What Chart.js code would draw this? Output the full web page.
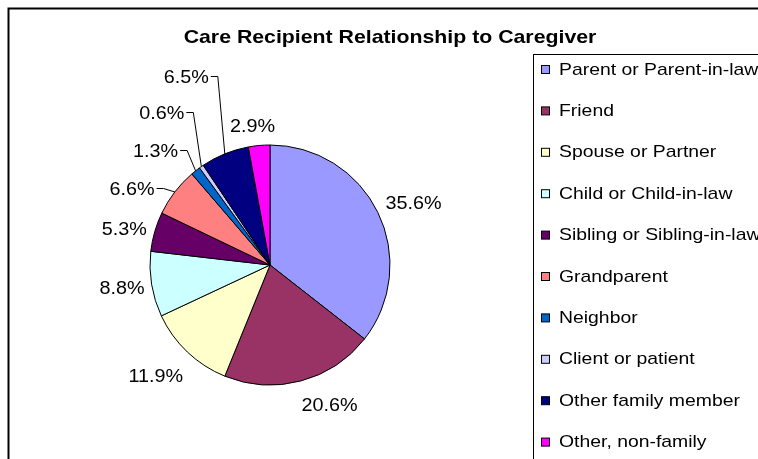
<!DOCTYPE html>
<html>
<head>
<meta charset="utf-8">
<script src="https://cdn.jsdelivr.net/npm/chart.js@4.4.1/dist/chart.umd.min.js"></script>
<style>
  html, body { margin: 0; padding: 0; background: #fff; overflow: hidden; }
  #wrap { position: relative; width: 758px; height: 459px; }
</style>
</head>
<body>
<div id="wrap"><canvas id="pie" width="758" height="459"></canvas></div>
<script>
// data
const categories = [
  'Parent or Parent-in-law', 'Friend', 'Spouse or Partner', 'Child or Child-in-law',
  'Sibling or Sibling-in-law', 'Grandparent', 'Neighbor', 'Client or patient',
  'Other family member', 'Other, non-family'
];
const shares = [35.6, 20.6, 11.9, 8.8, 5.3, 6.6, 1.3, 0.6, 6.5, 2.9];
const sliceColors = [
  '#9999FF', '#993366', '#FFFFCC', '#CCFFFF', '#660066',
  '#FF8080', '#0066CC', '#CCCCFF', '#000080', '#FF00FF'
];
const chartTitle = 'Care Recipient Relationship to Caregiver';

// label placement: [angle nudge (deg) from slice middle, distance from centre, leader line]
const labelPlacement = [
  [3, 156, false], [-8, 153, false], [2, 160, false], [0, 150, false], [-2.5, 150, false],
  [-9, 157, true], [-7, 161, true], [-0.7, 186, true], [-2, 205, true], [-2, 139, false]
];

const FONT = '"Liberation Sans", Arial, sans-serif';

function stretchedText(ctx, text, x, y, align, scaleX) {
  ctx.save();
  ctx.translate(x, y);
  ctx.scale(scaleX, 1);
  ctx.textAlign = align;
  ctx.textBaseline = 'middle';
  ctx.fillText(text, 0, 0);
  ctx.restore();
}

// frame, title and legend drawn behind/around the pie
const decor = {
  id: 'decor',
  beforeDraw(chart) {
    const ctx = chart.ctx;
    ctx.save();
    ctx.fillStyle = '#fff';
    ctx.fillRect(0, 0, chart.width, chart.height);
    ctx.strokeStyle = '#000';
    ctx.lineWidth = 2;
    ctx.strokeRect(8.5, 8.5, 900, 600);

    ctx.fillStyle = '#000';
    ctx.font = 'bold 19px ' + FONT;
    stretchedText(ctx, chartTitle, 390, 38, 'center', 1.12);

    // legend box
    ctx.lineWidth = 1;
    ctx.strokeStyle = '#000';
    ctx.strokeRect(533.5, 54.5, 400, 500);
    ctx.font = '17px ' + FONT;
    categories.forEach((name, i) => {
      const y = 70 + i * 41.4;
      ctx.fillStyle = sliceColors[i];
      ctx.fillRect(541.5, y - 4.5, 8, 8);
      ctx.strokeStyle = '#000';
      ctx.strokeRect(541.5, y - 4.5, 8, 8);
      ctx.fillStyle = '#000';
      stretchedText(ctx, name, 559, y, 'left', 1.14);
    });
    ctx.restore();
  }
};

// percentage labels with leader lines for the crowded slices
const pctLabels = {
  id: 'pctLabels',
  afterDatasetsDraw(chart) {
    const ctx = chart.ctx;
    const meta = chart.getDatasetMeta(0);
    ctx.save();
    ctx.font = '18px ' + FONT;
    ctx.fillStyle = '#000';
    ctx.strokeStyle = '#000';
    ctx.lineWidth = 1;
    meta.data.forEach((arc, i) => {
      const { x, y, startAngle, endAngle, outerRadius } = arc.getProps(['x', 'y', 'startAngle', 'endAngle', 'outerRadius'], true);
      const mid = (startAngle + endAngle) / 2;
      const [nudge, dist, leader] = labelPlacement[i];
      const a = mid + nudge * Math.PI / 180;
      const lx = x + Math.cos(a) * dist;
      const ly = y + Math.sin(a) * dist;
      const text = shares[i].toFixed(1) + '%';
      stretchedText(ctx, text, lx, ly, 'center', 1.1);
      if (leader) {
        const w = ctx.measureText(text).width * 1.1;
        const sx = lx + w / 2 + 2;
        const sy = Math.round(ly) - 1.5;
        const ex = x + Math.cos(mid) * outerRadius;
        const ey = y + Math.sin(mid) * outerRadius;
        ctx.beginPath();
        ctx.moveTo(sx, sy);
        ctx.lineTo(sx + 7, sy);
        ctx.lineTo(ex, ey);
        ctx.stroke();
      }
    });
    ctx.restore();
  }
};

new Chart(document.getElementById('pie'), {
  type: 'pie',
  data: {
    labels: categories,
    datasets: [{
      data: shares,
      backgroundColor: sliceColors,
      borderColor: '#000',
      borderWidth: 1
    }]
  },
  options: {
    responsive: false,
    animation: false,
    radius: 120,
    layout: { padding: { left: 150, right: 368, top: 145, bottom: 74 } },
    plugins: {
      legend: { display: false },
      tooltip: { enabled: false },
      title: { display: false }
    }
  },
  plugins: [decor, pctLabels]
});
</script>
</body>
</html>
